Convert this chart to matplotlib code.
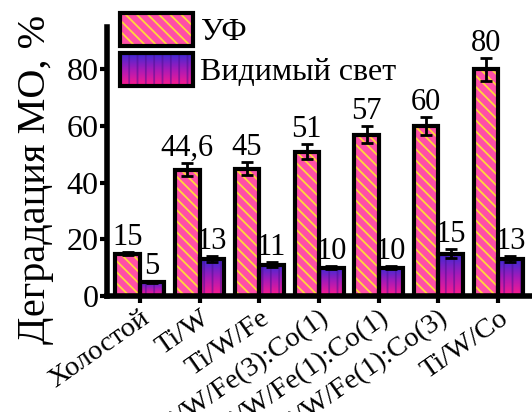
import numpy as np
import matplotlib
matplotlib.use('Agg')
import matplotlib.pyplot as plt
from matplotlib.colors import LinearSegmentedColormap
from matplotlib.patches import Rectangle
from matplotlib.legend_handler import HandlerPatch
from matplotlib.image import BboxImage
from matplotlib.transforms import Bbox, TransformedBbox

categories = ['Холостой', 'Ti/W', 'Ti/W/Fe', 'Ti/W/Fe(3):Co(1)',
              'Ti/W/Fe(1):Co(1)', 'Ti/W/Fe(1):Co(3)', 'Ti/W/Co']
uv = [15, 44.6, 45, 51, 57, 60, 80]
uv_err = [0.6, 2.3, 2.3, 2.6, 3.0, 3.3, 4.0]
vis = [5, 13, 11, 10, 10, 15, 13]
vis_err = [0.3, 1.0, 0.9, 0.6, 0.6, 1.5, 1.0]
uv_labels = ['15', '44,6', '45', '51', '57', '60', '80']
vis_labels = ['5', '13', '11', '10', '10', '15', '13']
yticks = [0, 20, 40, 60, 80]
series_names = ['УФ', 'Видимый свет']

plt.rcParams['font.family'] = ['Liberation Serif', 'DejaVu Serif']
plt.rcParams['hatch.linewidth'] = 1.3

UV_FACE = '#ff4fa8'
UV_HATCH = '#ffd83a'
VIS_STRIPE = '#4a1090'
vis_cmap = LinearSegmentedColormap.from_list('vis', ['#ff1a8c', '#a81ab8', '#3a2ad6'])
grad = np.linspace(0, 1, 64).reshape(-1, 1)

fig = plt.figure(figsize=(5.32, 4.12), dpi=100)
ax = fig.add_axes([107 / 532, 116 / 412, 436 / 532, 269 / 412])

x = np.arange(len(categories))
w = 0.41
xu = x - w / 2
xv = x + w / 2

# UV bars: pink with yellow diagonal hatch
ax.bar(xu, uv, w, facecolor=UV_FACE, edgecolor=UV_HATCH, linewidth=0,
       hatch='\\\\\\', zorder=2)
ax.bar(xu, uv, w, facecolor='none', edgecolor='black', linewidth=3, zorder=3)

# Visible bars: vertical gradient with vertical stripes
vbars = ax.bar(xv, vis, w, facecolor='none', edgecolor='none', zorder=2)
for p in vbars:
    im = ax.imshow(grad, cmap=vis_cmap, origin='lower', aspect='auto',
                   interpolation='bilinear',
                   extent=(p.get_x(), p.get_x() + p.get_width(), 0, p.get_height()),
                   zorder=2.1)
    im.set_clip_path(p)
ax.bar(xv, vis, w, facecolor='none', edgecolor=VIS_STRIPE, linewidth=0,
       hatch='||', alpha=0.5, zorder=2.2)
ax.bar(xv, vis, w, facecolor='none', edgecolor='black', linewidth=3, zorder=3)

ax.errorbar(xu, uv, yerr=uv_err, fmt='none', ecolor='black', elinewidth=2,
            capsize=4, capthick=2, zorder=4)
ax.errorbar(xv, vis, yerr=vis_err, fmt='none', ecolor='black', elinewidth=2,
            capsize=4, capthick=2, zorder=4)

for xi, v, e, lbl in zip(xu, uv, uv_err, uv_labels):
    ax.annotate(lbl, (xi, v + e), xytext=(0, 5), textcoords='offset points',
                ha='center', va='baseline', fontsize=22, zorder=5)
for xi, v, e, lbl in zip(xv, vis, vis_err, vis_labels):
    ax.annotate(lbl, (xi, v + e), xytext=(0, 5), textcoords='offset points',
                ha='center', va='baseline', fontsize=22, zorder=5)

ax.set_xlim(-0.55, 6.75)
ax.set_ylim(0, 95)
ax.set_yticks(yticks)
ax.set_xticks(x)
ax.set_xticklabels(categories, rotation=35, ha='right', va='top',
                   rotation_mode='anchor', fontsize=20.5)
ax.tick_params(axis='y', labelsize=23, direction='out', length=5, width=3, pad=1)
ax.tick_params(axis='x', direction='out', length=5, width=3, pad=2)
for s in ['top', 'right']:
    ax.spines[s].set_visible(False)
for s in ['left', 'bottom']:
    ax.spines[s].set_linewidth(4)

ax.set_ylabel('Деградация МО, %', fontsize=29)
ax.yaxis.set_label_coords(-0.121, 0.435)


class GradHandler(HandlerPatch):
    def __init__(self, kind, **kw):
        super().__init__(**kw)
        self.kind = kind

    def create_artists(self, legend, orig_handle, xdescent, ydescent,
                       width, height, fontsize, trans):
        x0, y0 = -xdescent, -ydescent
        arts = []
        if self.kind == 'vis':
            bb = TransformedBbox(Bbox.from_bounds(x0, y0, width, height), trans)
            im = BboxImage(bb, cmap=vis_cmap, interpolation='bilinear', origin='lower')
            im.set_data(grad)
            arts.append(im)
            r = Rectangle((x0, y0), width, height, facecolor='none',
                          edgecolor=VIS_STRIPE, linewidth=0, hatch='||',
                          alpha=0.5, transform=trans)
        else:
            r = Rectangle((x0, y0), width, height, facecolor=UV_FACE,
                          edgecolor=UV_HATCH, linewidth=0, hatch='\\\\\\',
                          transform=trans)
        o = Rectangle((x0, y0), width, height, facecolor='none',
                      edgecolor='black', linewidth=3, transform=trans)
        return arts + [r, o]


h_uv = Rectangle((0, 0), 1, 1)
h_vis = Rectangle((0, 0), 1, 1)
fig.legend([h_uv, h_vis], series_names,
           handler_map={h_uv: GradHandler('uv'), h_vis: GradHandler('vis')},
           loc='upper left', bbox_to_anchor=(120 / 532, 1 - 13 / 412),
           bbox_transform=fig.transFigure, frameon=False, fontsize=23,
           handlelength=2.3, handleheight=1.2, labelspacing=0.18,
           handletextpad=0.22, borderpad=0, borderaxespad=0)

fig.savefig('out.png', dpi=100)
